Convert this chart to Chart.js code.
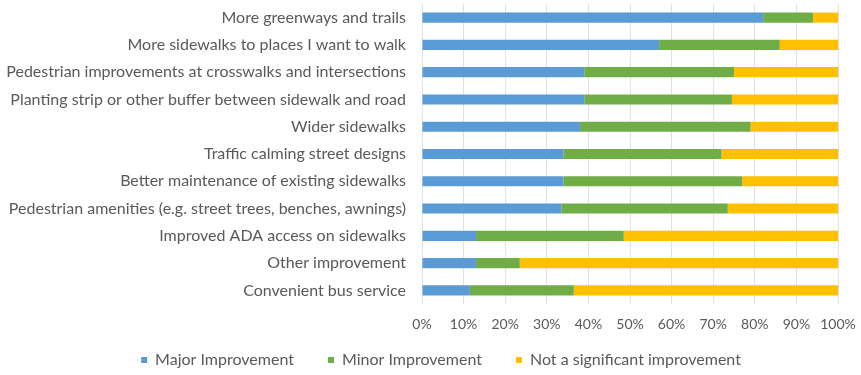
<!DOCTYPE html>
<html>
<head>
<meta charset="utf-8">
<script src="https://cdn.jsdelivr.net/npm/chart.js@4"></script>
<style>
  html, body { margin: 0; padding: 0; background: #fff; }
  #wrap { width: 861px; height: 375px; }
</style>
</head>
<body>
<div id="wrap"><canvas id="chart"></canvas></div>
<script>
// survey categories, top to bottom
const categories = [
  'More greenways and trails',
  'More sidewalks to places I want to walk',
  'Pedestrian improvements at crosswalks and intersections',
  'Planting strip or other buffer between sidewalk and road',
  'Wider sidewalks',
  'Traffic calming street designs',
  'Better maintenance of existing sidewalks',
  'Pedestrian amenities (e.g. street trees, benches, awnings)',
  'Improved ADA access on sidewalks',
  'Other improvement',
  'Convenient bus service'
];

// share of responses (%)
const major = [82, 57, 39, 39, 38, 34, 34, 33.5, 13, 13, 11.5];
const minor = [12, 29, 36, 35.5, 41, 38, 43, 40, 35.5, 10.5, 25];
const notSignificant = [6, 14, 25, 25.5, 21, 28, 23, 26.5, 51.5, 76.5, 63.5];

const seriesNames = ['Major Improvement', 'Minor Improvement', 'Not a significant improvement'];
const seriesColors = ['#5B9BD5', '#70AD47', '#FFC000'];

const textColor = '#595959';
const fontFamily = "Lato, sans-serif";

const data = {
  labels: categories,
  datasets: [major, minor, notSignificant].map((values, i) => ({
    label: seriesNames[i],
    data: values,
    backgroundColor: seriesColors[i],
    borderWidth: 0,
    barPercentage: 0.7,
    categoryPercentage: 0.53
  }))
};

// legend padding also spaces the items apart, so pull the legend's top edge
// back up afterwards (bottom stays put so the clip area still holds the text),
// and nudge it right to sit under the whole chart rather than the padded box
const legendLift = {
  id: 'legendLift',
  afterLayout(chart) {
    const legend = chart.legend;
    legend.top -= legend.options.labels.padding - 14;
    legend.left += 22;
    legend.right += 22;
  }
};

const config = {
  type: 'bar',
  data,
  plugins: [legendLift],
  options: {
    indexAxis: 'y',
    responsive: true,
    maintainAspectRatio: false,
    animation: false,
    layout: {
      padding: { top: 4, right: 23, bottom: 0, left: 0 }
    },
    scales: {
      x: {
        stacked: true,
        min: 0,
        max: 100,
        grid: { color: '#E0E0E0', drawTicks: false },
        border: { display: false },
        ticks: {
          stepSize: 10,
          padding: 12,
          color: textColor,
          font: { family: fontFamily, size: 14 },
          callback: v => v + '%'
        },
        afterFit: scale => {
          scale.height = 34;
          scale.paddingLeft = 0;
          scale.paddingRight = 0;
        }
      },
      y: {
        stacked: true,
        grid: { display: false, drawTicks: false },
        border: { display: false },
        ticks: {
          padding: 16,
          color: textColor,
          font: { family: fontFamily, size: 16 }
        },
        afterFit: scale => {
          scale.width = 422;
          scale.paddingTop = 0;
          scale.paddingBottom = 0;
        }
      }
    },
    plugins: {
      legend: {
        position: 'bottom',
        maxHeight: 37,
        labels: {
          boxWidth: 6,
          boxHeight: 6,
          padding: 34,
          color: textColor,
          font: { family: fontFamily, size: 16 }
        }
      },
      tooltip: { enabled: false }
    }
  }
};

new Chart(document.getElementById('chart'), config);
</script>
</body>
</html>
